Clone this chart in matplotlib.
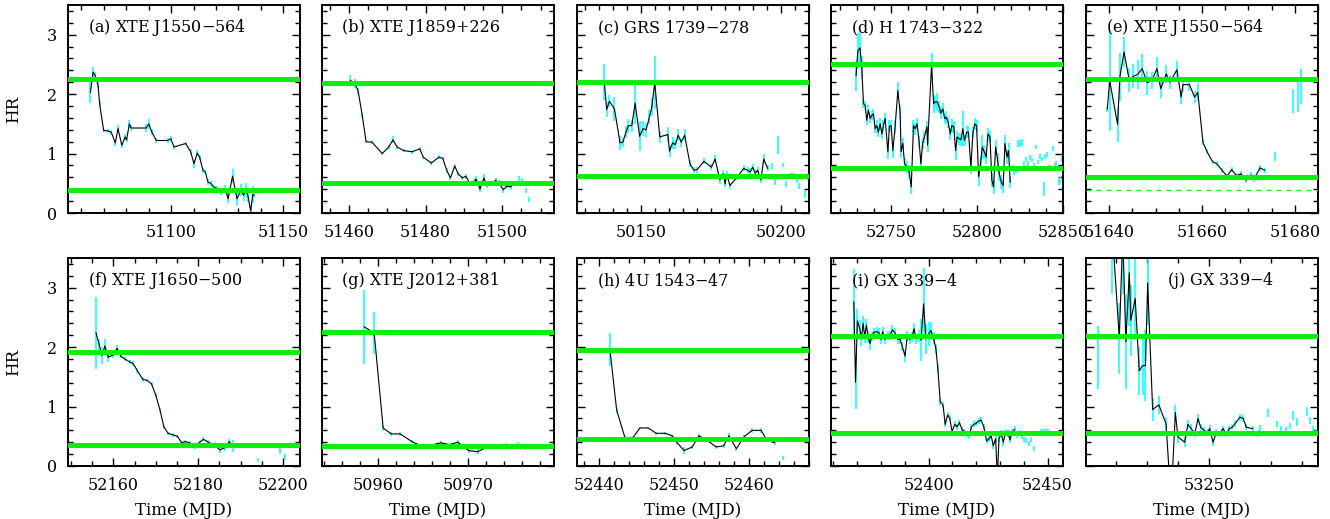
import numpy as np
import matplotlib
matplotlib.use("Agg")
from matplotlib import pyplot as plt
from matplotlib.ticker import MultipleLocator

plt.rcParams['font.family'] = ['DejaVu Serif']
plt.rcParams['font.size'] = 11.5

# (a) XTE J1550-564
t_a = [51064.0, 51065.2, 51066.2, 51067.4, 51068.1, 51069.9, 51071.8, 51073.3, 51075.1, 51076.3,
       51078.0, 51079.5, 51080.1, 51081.4, 51082.2, 51088.9, 51090.0, 51091.3, 51093.4, 51098.4,
       51099.9, 51101.3, 51106.5, 51108.7, 51110.2, 51111.7, 51112.7, 51114.2, 51115.3, 51116.4,
       51117.6, 51118.7, 51120.5, 51122.4, 51124.2, 51125.4, 51127.4, 51129.4, 51131.1, 51132.3,
       51133.3, 51134.2, 51135.5, 51136.4, 51137.0]
hr_a = [2.03, 2.37, 2.31, 2.15, 1.84, 1.39, 1.38, 1.36, 1.18, 1.42,
        1.14, 1.28, 1.23, 1.50, 1.43, 1.43, 1.50, 1.37, 1.22, 1.22,
        1.25, 1.11, 1.17, 1.03, 0.83, 1.01, 0.94, 0.72, 0.69, 0.52,
        0.50, 0.45, 0.41, 0.34, 0.41, 0.24, 0.62, 0.24, 0.38, 0.30,
        0.39, 0.30, 0.03, 0.31, 0.30]
err_a = [0.18, 0.08, 0.06, 0.05, 0.04, 0.03, 0.03, 0.04, 0.05, 0.06,
         0.04, 0.05, 0.04, 0.07, 0.05, 0.06, 0.09, 0.05, 0.05, 0.04,
         0.05, 0.04, 0.03, 0.05, 0.07, 0.05, 0.04, 0.04, 0.04, 0.05,
         0.04, 0.04, 0.04, 0.04, 0.06, 0.08, 0.12, 0.12, 0.10, 0.10,
         0.12, 0.12, 0.10, 0.15, 0.05]
tx_a, hx_a, ex_a = [], [], []

# (b) XTE J1859+226
t_b = [51460.4, 51461.5, 51462.4, 51463.5, 51464.5, 51466.1, 51468.7, 51470.4, 51471.5, 51472.6,
       51474.3, 51476.5, 51478.5, 51479.4, 51481.5, 51483.5, 51484.5, 51485.5, 51486.5, 51487.6,
       51488.5, 51489.6, 51490.5, 51491.6, 51492.6, 51493.2, 51494.2, 51495.2, 51496.1, 51497.4,
       51498.3, 51499.1, 51500.3, 51501.1, 51502.2, 51503.0]
hr_b = [2.23, 2.18, 2.06, 1.64, 1.20, 1.19, 1.00, 1.11, 1.23, 1.11,
        1.05, 1.03, 1.08, 0.94, 0.84, 0.94, 0.92, 0.72, 0.59, 0.79,
        0.66, 0.59, 0.62, 0.50, 0.52, 0.57, 0.40, 0.59, 0.46, 0.50,
        0.55, 0.50, 0.39, 0.45, 0.44, 0.49]
err_b = [0.10, 0.08, 0.05, 0.04, 0.03, 0.03, 0.03, 0.03, 0.06, 0.03,
         0.03, 0.03, 0.03, 0.03, 0.03, 0.03, 0.03, 0.04, 0.04, 0.03,
         0.03, 0.04, 0.04, 0.04, 0.05, 0.05, 0.05, 0.06, 0.04, 0.04,
         0.04, 0.05, 0.05, 0.05, 0.05, 0.04]
tx_b = [51504.3, 51505.2, 51506.1, 51507.0]
hx_b = [0.55, 0.52, 0.38, 0.23]
ex_b = [0.08, 0.07, 0.04, 0.04]

# (c) GRS 1739-278
t_c = [50136.8, 50137.6, 50138.6, 50140.4, 50142.4, 50143.4, 50144.5, 50145.4, 50146.6, 50147.8,
       50149.4, 50150.6, 50151.7, 50152.9, 50153.8, 50154.8, 50156.6, 50159.5, 50160.1, 50161.2,
       50162.2, 50163.2, 50164.3, 50165.5, 50167.4, 50168.8, 50170.0, 50172.4, 50175.1, 50176.4,
       50178.1, 50179.3, 50180.0, 50180.6, 50181.7, 50184.4, 50186.6, 50188.0, 50189.0, 50189.8,
       50190.8, 50191.6, 50192.8, 50193.8, 50195.2]
hr_c = [2.20, 1.74, 1.88, 1.75, 1.18, 1.19, 1.36, 1.47, 1.47, 1.85,
        1.29, 1.42, 1.40, 1.61, 1.79, 2.20, 1.28, 1.32, 1.04, 1.18,
        1.15, 1.31, 1.19, 1.31, 0.83, 0.72, 0.73, 0.87, 0.77, 0.91,
        0.56, 0.66, 0.49, 0.65, 0.46, 0.61, 0.75, 0.72, 0.69, 0.77,
        0.67, 0.72, 0.56, 0.91, 0.75]
err_c = [0.30, 0.12, 0.10, 0.20, 0.12, 0.08, 0.10, 0.12, 0.10, 0.35,
         0.25, 0.12, 0.12, 0.12, 0.15, 0.45, 0.10, 0.12, 0.10, 0.10,
         0.08, 0.10, 0.08, 0.10, 0.06, 0.05, 0.05, 0.05, 0.05, 0.07,
         0.08, 0.06, 0.06, 0.05, 0.05, 0.05, 0.05, 0.05, 0.06, 0.05,
         0.05, 0.05, 0.05, 0.08, 0.05]
tx_c = [50196.6, 50197.8, 50199.0, 50200.6, 50201.6, 50203.4, 50204.6, 50205.8, 50206.6, 50207.4,
        50208.6, 50209.6]
hx_c = [0.79, 0.52, 1.14, 0.81, 0.49, 0.63, 0.63, 0.55, 0.46, 0.61, 0.32, 0.61]
ex_c = [0.05, 0.05, 0.15, 0.03, 0.05, 0.05, 0.05, 0.05, 0.05, 0.05, 0.06, 0.07]

# (d) H 1743-322
t_d = [52729.6, 52730.6, 52731.9, 52732.9, 52733.9, 52734.9, 52735.8, 52736.8, 52737.8, 52738.7,
       52739.7, 52740.7, 52741.7, 52742.6, 52743.6, 52744.6, 52745.5, 52746.5, 52748.1, 52749.0,
       52750.0, 52751.0, 52752.3, 52753.9, 52755.2, 52755.8, 52756.8, 52757.8, 52759.1, 52760.5,
       52761.7, 52763.0, 52764.0, 52765.1, 52766.3, 52767.3, 52768.3, 52769.4, 52770.8, 52771.2,
       52773.5, 52774.7, 52775.6, 52776.8, 52778.0, 52778.9, 52780.1, 52781.1, 52782.0, 52783.2,
       52784.4, 52785.3, 52786.5, 52787.5, 52788.4, 52789.6, 52790.6, 52791.7, 52792.7, 52793.9,
       52795.0, 52796.4, 52797.6, 52798.7, 52799.7, 52800.9, 52802.0, 52803.0, 52804.2, 52805.3,
       52806.3, 52807.5, 52808.6, 52809.6, 52810.8, 52811.9, 52812.9, 52814.1, 52815.2, 52816.2,
       52817.4, 52818.3, 52819.3]
hr_d = [2.31, 2.73, 2.78, 2.45, 1.84, 1.81, 1.56, 1.73, 1.59, 1.64,
        1.67, 1.42, 1.47, 1.36, 1.50, 1.33, 1.47, 1.59, 1.03, 1.46,
        1.47, 1.05, 1.45, 2.06, 1.70, 1.03, 1.17, 0.83, 0.78, 0.69,
        0.44, 1.47, 1.42, 1.50, 1.19, 0.83, 1.17, 1.28, 1.45, 1.14,
        2.48, 1.84, 1.87, 1.87, 1.78, 1.68, 1.75, 1.59, 1.61, 1.53,
        1.33, 1.47, 1.45, 1.05, 1.28, 1.25, 1.23, 1.42, 1.22, 1.36,
        1.36, 0.77, 1.36, 1.50, 1.47, 0.61, 0.83, 1.11, 1.03, 0.94,
        1.33, 1.28, 0.55, 0.44, 1.11, 0.89, 0.66, 0.52, 0.46, 1.17,
        0.94, 1.05, 0.52]
err_d = [0.25, 0.30, 0.25, 0.20, 0.08, 0.08, 0.08, 0.08, 0.08, 0.08,
         0.08, 0.08, 0.10, 0.08, 0.10, 0.08, 0.10, 0.10, 0.12, 0.10,
         0.10, 0.12, 0.12, 0.15, 0.12, 0.10, 0.10, 0.10, 0.10, 0.12,
         0.12, 0.10, 0.10, 0.10, 0.10, 0.12, 0.10, 0.10, 0.10, 0.12,
         0.22, 0.15, 0.10, 0.15, 0.10, 0.10, 0.10, 0.10, 0.10, 0.10,
         0.10, 0.12, 0.10, 0.15, 0.10, 0.10, 0.10, 0.30, 0.10, 0.10,
         0.10, 0.12, 0.10, 0.10, 0.10, 0.15, 0.12, 0.20, 0.12, 0.12,
         0.10, 0.10, 0.12, 0.12, 0.12, 0.12, 0.12, 0.12, 0.12, 0.15,
         0.12, 0.12, 0.10]
tx_d = [52820.3, 52821.5, 52822.6, 52823.6, 52825.1, 52826.1, 52827.5, 52828.4, 52829.4, 52830.6,
        52831.9, 52832.9, 52834.3, 52835.2, 52836.4, 52837.6, 52838.7, 52839.7, 52840.9, 52841.8,
        52842.8, 52844.0, 52845.1, 52846.1, 52847.5, 52848.4, 52849.4]
hx_d = [0.75, 0.69, 0.72, 1.17, 1.17, 1.19, 0.83, 0.91, 0.83, 0.94,
        0.89, 0.80, 1.11, 0.86, 0.95, 0.91, 0.41, 0.95, 0.99, 0.77,
        0.74, 1.08, 0.80, 0.83, 0.52, 0.55, 0.91]
ex_d = [0.05, 0.05, 0.05, 0.06, 0.06, 0.06, 0.05, 0.04, 0.04, 0.04,
        0.04, 0.04, 0.04, 0.04, 0.04, 0.04, 0.12, 0.04, 0.04, 0.04,
        0.04, 0.04, 0.04, 0.04, 0.05, 0.05, 0.06]

# (e) XTE J1550-564
t_e = [51639.6, 51640.1, 51641.8, 51642.3, 51643.2, 51644.3, 51645.2, 51646.1, 51647.1, 51648.2,
       51649.2, 51650.3, 51651.1, 51652.3, 51653.1, 51654.6, 51655.5, 51655.9, 51657.3, 51658.4,
       51659.1, 51660.2, 51661.1, 51662.3, 51663.2, 51664.3, 51665.4, 51666.4, 51667.4, 51668.4,
       51669.5, 51670.5, 51671.2, 51672.5, 51673.5]
hr_e = [1.75, 2.23, 1.49, 2.29, 2.71, 2.24, 2.30, 2.33, 2.43, 2.19,
        2.23, 2.43, 2.09, 2.34, 2.20, 2.41, 1.95, 2.16, 2.16, 1.95,
        2.03, 1.19, 1.03, 0.86, 0.83, 0.72, 0.62, 0.73, 0.63, 0.66,
        0.55, 0.64, 0.57, 0.76, 0.72]
err_e = [0.05, 0.85, 0.30, 0.40, 0.25, 0.20, 0.20, 0.25, 0.25, 0.20,
         0.15, 0.20, 0.15, 0.15, 0.12, 0.15, 0.12, 0.12, 0.10, 0.10,
         0.15, 0.05, 0.04, 0.04, 0.04, 0.04, 0.04, 0.04, 0.04, 0.04,
         0.05, 0.05, 0.05, 0.05, 0.04]
tx_e = [51675.7, 51679.7, 51680.6, 51681.3]
hx_e = [0.95, 1.89, 1.95, 2.13]
ex_e = [0.07, 0.20, 0.25, 0.30]

# (f) XTE J1650-500
t_f = [52155.9, 52156.7, 52157.3, 52158.0, 52158.8, 52160.0, 52160.9, 52161.7, 52162.7, 52163.9,
       52164.7, 52165.6, 52166.9, 52168.0, 52169.0, 52170.0, 52171.0, 52171.9, 52172.9, 52174.1,
       52175.1, 52176.1, 52177.0, 52178.0, 52179.2, 52180.2, 52181.2, 52182.4, 52183.9, 52185.1,
       52186.3, 52187.3, 52188.2]
hr_f = [2.24, 2.03, 1.86, 2.02, 1.83, 1.87, 1.98, 1.85, 1.80, 1.75,
        1.72, 1.61, 1.46, 1.44, 1.38, 1.19, 0.94, 0.66, 0.55, 0.52,
        0.50, 0.39, 0.41, 0.39, 0.31, 0.39, 0.45, 0.40, 0.35, 0.27,
        0.31, 0.41, 0.34]
err_f = [0.60, 0.10, 0.15, 0.12, 0.08, 0.05, 0.05, 0.04, 0.04, 0.04,
         0.04, 0.04, 0.04, 0.03, 0.03, 0.03, 0.03, 0.03, 0.03, 0.03,
         0.03, 0.03, 0.03, 0.03, 0.03, 0.03, 0.03, 0.03, 0.05, 0.05,
         0.05, 0.05, 0.10]
tx_f = [52194.1, 52199.2, 52200.4]
hx_f = [0.10, 0.27, 0.15]
ex_f = [0.03, 0.06, 0.05]

# (g) XTE J2012+381
t_g = [50958.5, 50959.6, 50960.6, 50961.5, 50962.5, 50963.8, 50965.1, 50967.0, 50968.0, 50968.9,
       50970.1, 50971.1, 50972.2, 50973.2, 50974.3, 50975.6]
hr_g = [2.34, 2.24, 0.64, 0.54, 0.54, 0.41, 0.32, 0.39, 0.36, 0.40,
        0.26, 0.24, 0.32, 0.32, 0.35, 0.36]
err_g = [0.62, 0.35, 0.05, 0.04, 0.04, 0.03, 0.04, 0.03, 0.03, 0.03,
         0.04, 0.04, 0.03, 0.03, 0.04, 0.05]
tx_g = [50976.5, 50977.5]
hx_g = [0.30, 0.32]
ex_g = [0.03, 0.03]

# (h) 4U 1543-47
t_h = [52441.4, 52442.3, 52443.4, 52444.5, 52445.4, 52446.5, 52447.6, 52448.8, 52449.7, 52450.4,
       52451.3, 52452.4, 52453.3, 52454.4, 52455.6, 52456.6, 52457.3, 52458.3, 52459.3, 52460.4,
       52461.6, 52462.4, 52463.4]
hr_h = [1.96, 0.94, 0.48, 0.48, 0.64, 0.64, 0.55, 0.55, 0.51, 0.39,
        0.26, 0.32, 0.51, 0.43, 0.32, 0.34, 0.51, 0.29, 0.49, 0.60,
        0.60, 0.43, 0.39]
err_h = [0.27, 0.04, 0.02, 0.02, 0.02, 0.02, 0.02, 0.02, 0.02, 0.03,
         0.06, 0.03, 0.03, 0.02, 0.03, 0.03, 0.04, 0.03, 0.03, 0.04,
         0.04, 0.03, 0.04]
tx_h = [52464.5]
hx_h = [0.13]
ex_h = [0.03]

# (i) GX 339-4
t_i = [52368.6, 52369.3, 52370.1, 52371.1, 52371.8, 52372.5, 52373.2, 52373.9, 52374.6, 52375.4,
       52376.1, 52377.0, 52378.2, 52379.2, 52380.0, 52380.7, 52381.7, 52382.8, 52383.8, 52384.8,
       52385.9, 52387.0, 52388.0, 52389.0, 52390.1, 52391.1, 52392.0, 52393.0, 52393.9, 52394.8,
       52395.8, 52396.9, 52397.9, 52398.9, 52400.0, 52401.0, 52402.1, 52403.1, 52403.9, 52404.9,
       52406.1, 52407.0, 52408.0, 52408.9, 52409.9, 52411.0, 52412.0, 52413.0, 52414.1, 52415.1,
       52416.2, 52417.2, 52418.0, 52419.0, 52420.1, 52421.1, 52422.1, 52423.2, 52424.4, 52425.4,
       52426.3, 52427.2, 52428.2, 52428.9, 52429.6, 52430.6, 52431.4, 52432.4, 52433.5, 52434.2,
       52435.2, 52436.2]
hr_i = [2.76, 1.41, 2.44, 2.31, 2.14, 2.40, 2.17, 2.37, 2.17, 2.06,
        2.18, 2.25, 2.26, 2.24, 2.13, 2.26, 2.13, 2.20, 2.20, 2.29,
        2.24, 2.13, 2.13, 2.01, 1.85, 2.19, 2.13, 2.17, 2.31, 2.14,
        2.19, 2.12, 2.73, 2.14, 2.22, 2.28, 2.15, 1.97, 1.64, 1.08,
        1.02, 0.70, 0.86, 0.80, 0.58, 0.70, 0.66, 0.73, 0.61, 0.58,
        0.54, 0.51, 0.66, 0.70, 0.72, 0.76, 0.77, 0.66, 0.42, 0.46,
        0.51, 0.34, 0.46, -0.20, 0.46, 0.54, 0.40, 0.57, 0.54, 0.44,
        0.57, 0.62]
err_i = [0.55, 0.45, 0.20, 0.15, 0.12, 0.12, 0.10, 0.10, 0.10, 0.10,
         0.08, 0.08, 0.08, 0.08, 0.08, 0.08, 0.08, 0.08, 0.08, 0.08,
         0.08, 0.08, 0.08, 0.08, 0.10, 0.08, 0.08, 0.08, 0.10, 0.08,
         0.10, 0.35, 0.60, 0.25, 0.20, 0.15, 0.10, 0.08, 0.08, 0.06,
         0.05, 0.05, 0.05, 0.05, 0.05, 0.05, 0.05, 0.05, 0.05, 0.05,
         0.05, 0.05, 0.05, 0.05, 0.05, 0.05, 0.05, 0.05, 0.05, 0.05,
         0.06, 0.06, 0.06, 0.10, 0.06, 0.06, 0.06, 0.06, 0.06, 0.06,
         0.06, 0.06]
tx_i = [52437.3, 52438.3, 52439.2, 52440.1, 52441.1, 52442.3, 52443.2, 52444.4, 52447.2, 52448.3,
        52449.3, 52450.3, 52456.3]
hx_i = [0.51, 0.57, 0.49, 0.44, 0.43, 0.38, 0.45, 0.30, 0.57, 0.58, 0.59, 0.57, 0.33]
ex_i = [0.04, 0.04, 0.04, 0.04, 0.04, 0.04, 0.04, 0.04, 0.05, 0.05, 0.05, 0.06, 0.05]

# (j) GX 339-4
t_j = [53219.0, 53221.2, 53222.3, 53223.3, 53224.4, 53224.9, 53226.3, 53227.6, 53228.7, 53229.6,
       53230.3, 53231.9, 53233.9, 53236.2, 53237.8, 53239.2, 53240.0, 53242.2, 53243.2, 53244.3,
       53245.4, 53246.5, 53247.3, 53248.4, 53249.5, 53250.2, 53251.3, 53252.4, 53253.4, 53254.5,
       53255.6, 53256.5, 53257.4, 53258.5, 53259.9, 53261.0, 53262.0, 53264.0]
hr_j = [3.90, 2.15, 3.90, 2.09, 3.25, 2.45, 2.82, 1.60, 1.69, 1.69,
        3.08, 0.95, 1.03, 0.71, -0.60, 0.90, 0.49, 0.40, 0.70, 0.63,
        0.54, 0.80, 0.65, 0.60, 0.56, 0.63, 0.40, 0.57, 0.54, 0.63,
        0.54, 0.63, 0.65, 0.72, 0.82, 0.80, 0.65, 0.63]
err_j = [1.00, 0.60, 1.00, 0.80, 0.90, 0.60, 0.70, 0.40, 0.50, 0.60,
         0.70, 0.20, 0.15, 0.12, 0.30, 0.12, 0.10, 0.08, 0.08, 0.08,
         0.06, 0.08, 0.06, 0.06, 0.06, 0.06, 0.06, 0.06, 0.05, 0.05,
         0.05, 0.05, 0.05, 0.06, 0.06, 0.06, 0.05, 0.05]
tx_j = [53210.4, 53214.5, 53265.8, 53266.3, 53269.0, 53271.7, 53273.0, 53274.7, 53276.0, 53276.9,
        53278.2, 53281.4, 53282.5, 53283.5, 53284.4]
hx_j = [2.03, 1.83, 0.54, 0.63, 0.89, 0.71, 0.63, 0.60, 0.68, 0.85, 0.74, 0.92, 0.77, 0.63, 0.57]
ex_j = [0.80, 0.53, 0.06, 0.06, 0.07, 0.05, 0.05, 0.05, 0.05, 0.07, 0.06, 0.08, 0.06, 0.05, 0.05]

labels = ['(a) XTE J1550$-$564', '(b) XTE J1859+226', '(c) GRS 1739$-$278', '(d) H 1743$-$322',
          '(e) XTE J1550$-$564', '(f) XTE J1650$-$500', '(g) XTE J2012+381', '(h) 4U 1543$-$47',
          '(i) GX 339$-$4', '(j) GX 339$-$4']
hard_level = [2.25, 2.18, 2.20, 2.50, 2.25, 1.92, 2.26, 1.96, 2.18, 2.18]
soft_level = [0.39, 0.50, 0.62, 0.76, 0.60, 0.36, 0.34, 0.45, 0.56, 0.56]
xlims = [(51054, 51157.5), (51453, 51513.5), (50127, 50210), (52715, 52850), (51635, 51685),
         (52149.3, 52204), (50953.8, 50979.6), (52437, 52468), (52359, 52456.5), (53210.5, 53285)]
major = [50, 20, 50, 50, 20, 20, 10, 10, 50, 50]
minor = [10, 5, 5, 10, 5, 5, 2, 2, 10, 10]

series = [(t_a, hr_a, err_a, tx_a, hx_a, ex_a), (t_b, hr_b, err_b, tx_b, hx_b, ex_b),
          (t_c, hr_c, err_c, tx_c, hx_c, ex_c), (t_d, hr_d, err_d, tx_d, hx_d, ex_d),
          (t_e, hr_e, err_e, tx_e, hx_e, ex_e), (t_f, hr_f, err_f, tx_f, hx_f, ex_f),
          (t_g, hr_g, err_g, tx_g, hx_g, ex_g), (t_h, hr_h, err_h, tx_h, hx_h, ex_h),
          (t_i, hr_i, err_i, tx_i, hx_i, ex_i), (t_j, hr_j, err_j, tx_j, hx_j, ex_j)]

W, H = 1330, 519
fig = plt.figure(figsize=(W / 100, H / 100), dpi=100)
lefts = [68, 322, 577, 831, 1086]
tops = [5, 258]
aw, ah = 232, 208

green = '#10ee10'
cyan = '#00ffff'

for k in range(10):
    row, col = divmod(k, 5)
    ax = fig.add_axes([lefts[col] / W, 1 - (tops[row] + ah) / H, aw / W, ah / H])
    t, hr, err, tx, hx, ex = series[k]

    ax.errorbar(t, hr, yerr=err, fmt='none', ecolor=cyan, elinewidth=1.1, capsize=0, zorder=2)
    if len(tx):
        ax.errorbar(tx, hx, yerr=ex, fmt='none', ecolor=cyan, elinewidth=1.1, capsize=0, zorder=2)
    ax.plot(t, hr, color='black', lw=0.8, zorder=3)
    ax.axhline(hard_level[k], color=green, lw=3.6, zorder=4)
    ax.axhline(soft_level[k], color=green, lw=3.6, zorder=4)
    if k == 4:
        ax.axhline(0.39, color=green, lw=0.9, ls=(0, (4, 4)), zorder=4)

    ax.set_xlim(*xlims[k])
    ax.set_ylim(0, 3.5)
    ax.xaxis.set_major_locator(MultipleLocator(major[k]))
    ax.xaxis.set_minor_locator(MultipleLocator(minor[k]))
    ax.yaxis.set_major_locator(MultipleLocator(1))
    ax.yaxis.set_minor_locator(MultipleLocator(0.2))
    ax.tick_params(which='both', direction='in', top=True, right=True, width=1.0, colors='black')
    ax.tick_params(which='major', length=6, labelsize=11.5, pad=8)
    ax.tick_params(which='minor', length=3.5)
    ax.ticklabel_format(axis='x', useOffset=False, style='plain')
    for s in ax.spines.values():
        s.set_linewidth(1.4)

    if col == 0:
        ax.set_ylabel('HR', fontsize=12, labelpad=18)
    else:
        ax.set_yticklabels([])
    if row == 1:
        ax.set_xlabel('Time (MJD)', fontsize=12, labelpad=6)

    lx = 0.35 if k == 9 else 0.085
    ax.text(lx, 0.89, labels[k], transform=ax.transAxes, fontsize=11.5, va='center', ha='left')

fig.savefig('out.png', dpi=100)
